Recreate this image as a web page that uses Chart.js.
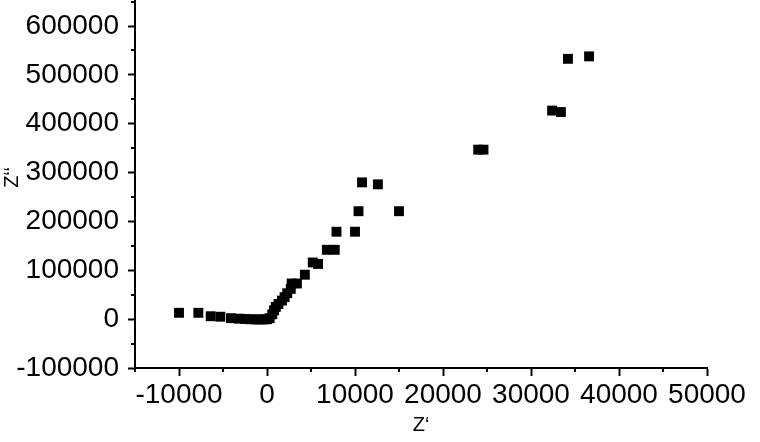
<!DOCTYPE html>
<html>
<head>
<meta charset="utf-8">
<script src="https://cdn.jsdelivr.net/npm/chart.js@4/dist/chart.umd.min.js"></script>
<style>
  html, body { margin: 0; padding: 0; background: #fff; overflow: hidden; }
  #wrap { position: relative; width: 760px; height: 462px; margin-top: -20px; }
</style>
</head>
<body>
<div id="wrap"><canvas id="nyquist"></canvas></div>
<script>
const zReal = [
  -10000, -7800, -6400, -5300, -4100, -3200, -2500, -1900, -1300, -800, -300, 0,
  300, 600, 800, 1000, 1300, 1700, 2000, 2300, 2700, 2800, 3400, 4300,
  5200, 5800, 6800, 7700, 7900, 10000, 10400, 15000, 10800, 12600,
  24000, 24600, 32400, 33400, 34200, 36600
];
const zImag = [
  13000, 13000, 6000, 5000, 2000, 1000, 300, -200, -500, -600, -500, 0,
  2000, 10000, 18000, 25000, 31000, 38000, 45000, 53000, 62000, 73000, 73000, 91000,
  116000, 113000, 142000, 142000, 179000, 179000, 221000, 221000, 280000, 276000,
  347000, 347000, 427000, 424000, 533000, 538000
];
const xTicks = [-10000, 0, 10000, 20000, 30000, 40000, 50000];
const yTicks = [-100000, 0, 100000, 200000, 300000, 400000, 500000, 600000];
const xTitle = 'Z‘';
const yTitle = 'Z‘‘';

const points = zReal.map((x, i) => ({ x: x, y: zImag[i] }));

// short minor ticks halfway between the major ones
const minorTicks = {
  id: 'minorTicks',
  afterDraw(chart) {
    const ctx = chart.ctx;
    ctx.save();
    ctx.strokeStyle = '#000';
    ctx.lineWidth = 2;
    ['x', 'y'].forEach(id => {
      const scale = chart.scales[id];
      const ticks = scale.ticks;
      if (ticks.length < 2) return;
      const step = ticks[1].value - ticks[0].value;
      for (let v = ticks[0].value - step / 2; v <= scale.max + 1e-6; v += step) {
        if (v < scale.min - 1e-6) continue;
        const p = Math.round(scale.getPixelForValue(v));
        ctx.beginPath();
        if (id === 'x') {
          ctx.moveTo(p, scale.top);
          ctx.lineTo(p, scale.top + 4);
        } else {
          ctx.moveTo(scale.right, p);
          ctx.lineTo(scale.right - 4, p);
        }
        ctx.stroke();
      }
    });
    ctx.restore();
  }
};

const fontFamily = '"Liberation Sans", Arial, sans-serif';
const tickFont = { family: fontFamily, size: 28 };
const plain = v => String(v);

new Chart(document.getElementById('nyquist'), {
  type: 'scatter',
  data: {
    datasets: [{
      data: points,
      pointStyle: 'rect',
      pointRadius: 7,
      pointHoverRadius: 7,
      borderWidth: 0,
      backgroundColor: '#000'
    }]
  },
  options: {
    responsive: true,
    maintainAspectRatio: false,
    animation: false,
    events: [],
    layout: { padding: { top: 0, right: 53, bottom: 0, left: 0 } },
    plugins: { legend: { display: false }, tooltip: { enabled: false } },
    scales: {
      x: {
        type: 'linear',
        min: -15000,
        max: 50000,
        afterBuildTicks: s => { s.ticks = xTicks.map(v => ({ value: v })); },
        afterFit: s => { s.height = 74; s.paddingLeft = 0; },
        border: { display: true, color: '#000', width: 2 },
        grid: { drawOnChartArea: false, drawTicks: true, tickLength: 8, tickWidth: 2, tickColor: '#000' },
        ticks: { autoSkip: false, callback: plain, color: '#000', font: tickFont, padding: 2, maxRotation: 0 },
        title: {
          display: true, text: xTitle, color: '#000',
          font: { family: fontFamily, size: 20 },
          padding: { top: 0, bottom: 5 }
        }
      },
      y: {
        type: 'linear',
        min: -100000,
        max: 680000,
        afterBuildTicks: s => { s.ticks = yTicks.map(v => ({ value: v })); },
        afterFit: s => { s.width = 135; s.paddingTop = 0; s.paddingBottom = 0; },
        border: { display: true, color: '#000', width: 2 },
        grid: { drawOnChartArea: false, drawTicks: true, tickLength: 7, tickWidth: 2, tickColor: '#000' },
        ticks: { autoSkip: false, callback: plain, color: '#000', font: tickFont, padding: 9 },
        title: {
          display: true, text: yTitle, color: '#000',
          font: { family: fontFamily, size: 20 },
          padding: { top: 0, bottom: 0 }
        }
      }
    }
  },
  plugins: [minorTicks]
});
</script>
</body>
</html>
